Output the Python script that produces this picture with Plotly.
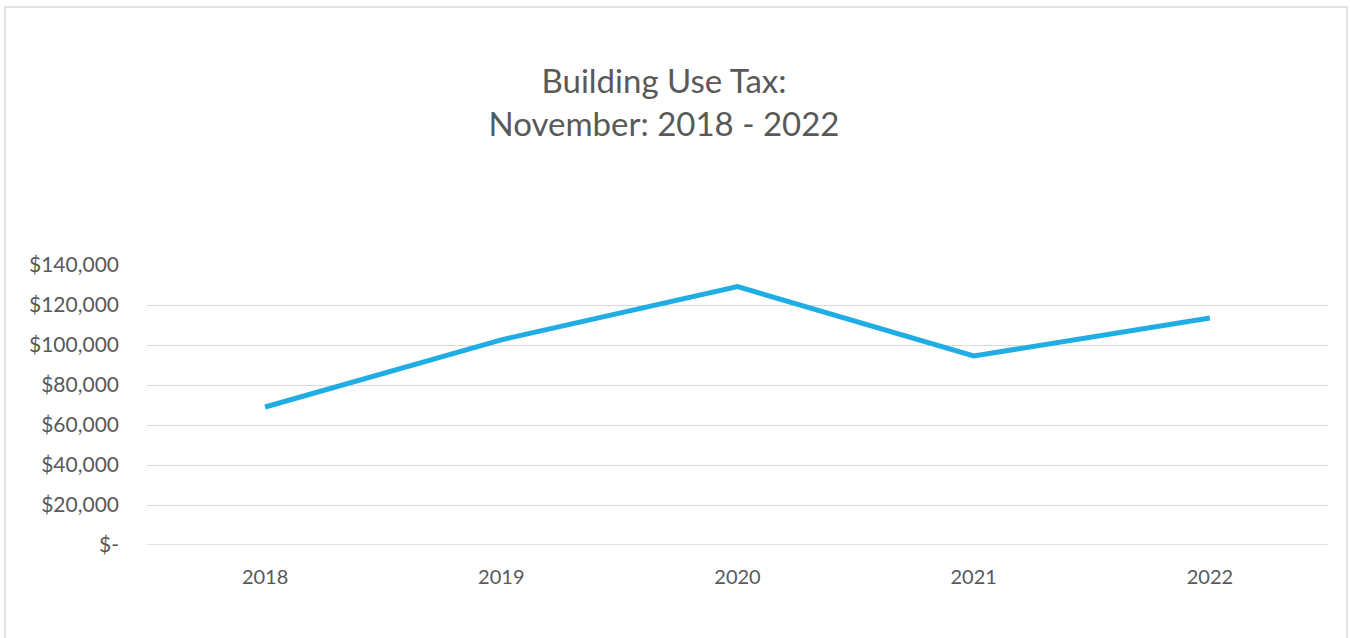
import plotly.graph_objects as go

years = ["2018", "2019", "2020", "2021", "2022"]
revenue = [69000, 102600, 129200, 94500, 113500]
y_tick_values = [0, 20000, 40000, 60000, 80000, 100000, 120000, 140000]
y_tick_labels = ["$-", "$20,000", "$40,000", "$60,000", "$80,000", "$100,000", "$120,000", "$140,000"]

W, H = 1350, 638
L, R, T, B = 147, 22, 265, 93
pw, ph = W - L - R, H - T - B

def px_x(x):
    return (x - L) / pw

def px_y(y):
    return (H - B - y) / ph

fig = go.Figure()
fig.add_trace(go.Scatter(
    x=years, y=revenue, mode="lines",
    line=dict(color="#1FADE4", width=5),
    hoverinfo="x+y",
))

fig.update_layout(
    width=W, height=H,
    margin=dict(l=L, r=R, t=T, b=B),
    paper_bgcolor="white", plot_bgcolor="white",
    showlegend=False,
    font=dict(family="Lato, 'Open Sans', sans-serif", color="#595959", size=20),
    title=dict(
        text="Building Use Tax:<br>November: 2018 - 2022",
        x=px_x(664), xref="paper", xanchor="center",
        y=1 - 93 / H, yref="container", yanchor="middle",
        font=dict(size=33, color="#595959"),
    ),
    xaxis=dict(
        type="category", range=[-0.5, 4.5],
        showgrid=False, zeroline=False, showline=False,
        ticks="", tickfont=dict(size=20, color="#595959"),
        ticklabelstandoff=18,
    ),
    yaxis=dict(
        range=[0, 140000], tickvals=y_tick_values, ticktext=y_tick_labels,
        showgrid=True, gridcolor="#D9D9D9", gridwidth=1.3,
        zeroline=False, showline=False, ticks="",
        tickfont=dict(size=21, color="#595959"),
        ticklabelstandoff=27,
    ),
    shapes=[
        dict(type="rect", xref="paper", yref="paper",
             x0=px_x(5), x1=px_x(1347), y0=px_y(645), y1=px_y(7),
             line=dict(color="#D9D9D9", width=1.5), fillcolor="rgba(0,0,0,0)",
             layer="below"),
        dict(type="line", xref="paper", yref="y",
             x0=0, x1=1, y0=0, y1=0,
             line=dict(color="#D9D9D9", width=1.3), layer="below"),
    ],
)

fig.write_html(
    "out.html",
    config={"displayModeBar": False},
    post_script="document.body.style.margin='0';document.body.style.overflow='hidden';",
)
